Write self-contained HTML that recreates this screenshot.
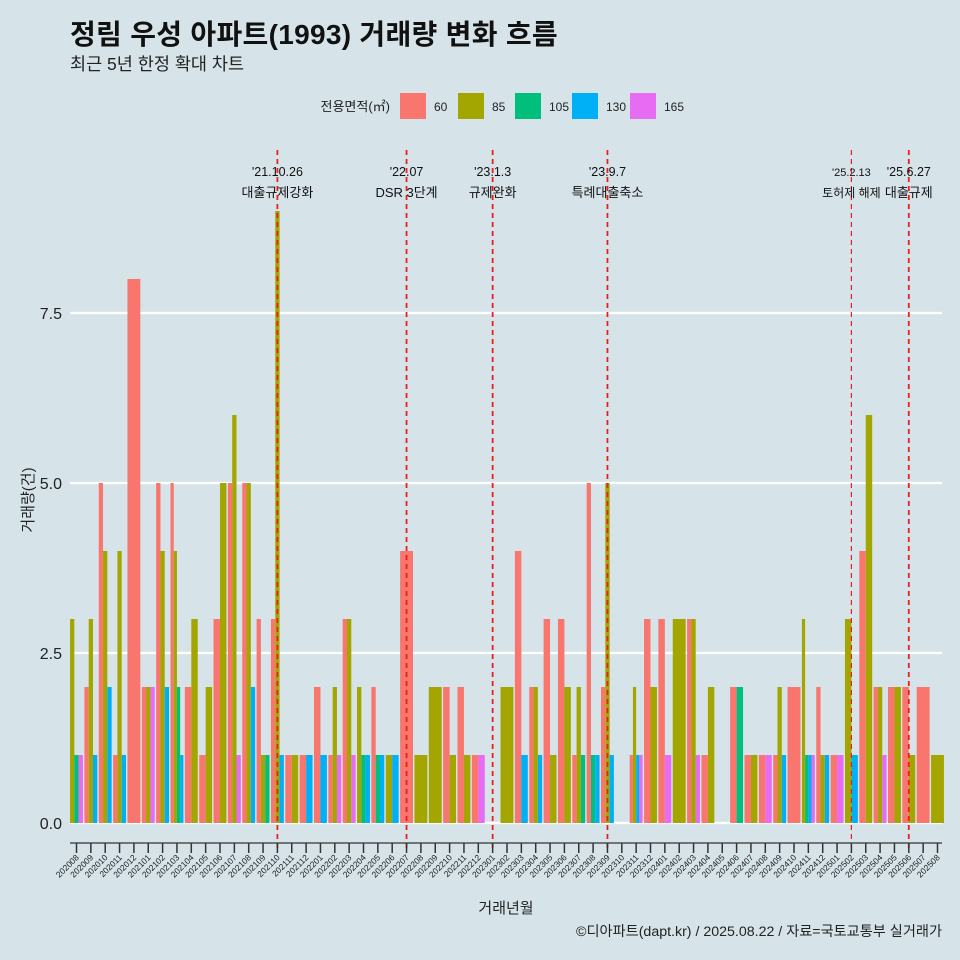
<!DOCTYPE html>
<html><head><meta charset="utf-8"><style>
body{margin:0;background:#d6e4ea;}
svg{display:block;font-family:"Liberation Sans","Noto Sans CJK KR",sans-serif;}
</style></head><body>
<svg id="chart" width="960" height="960" viewBox="0 0 960 960" xmlns="http://www.w3.org/2000/svg">
<rect width="960" height="960" fill="#d6e4ea"/>
<text x="70" y="44" font-size="28" font-weight="bold" fill="#111" letter-spacing="0.3">정림 우성 아파트(1993) 거래량 변화 흐름</text>
<text x="70" y="70" font-size="17.5" fill="#222">최근 5년 한정 확대 차트</text>
<g id="legend"></g>
<g id="grid"></g>
<g id="bars"></g>
<g id="events"></g>
<g id="axes"></g>
<text x="506" y="913" font-size="15" text-anchor="middle" fill="#222">거래년월</text>
<text transform="translate(33,500) rotate(-90)" font-size="15" text-anchor="middle" fill="#222">거래량(건)</text>
<text x="942" y="936" font-size="14.2" text-anchor="end" fill="#222">©디아파트(dapt.kr) / 2025.08.22 / 자료=국토교통부 실거래가</text>
</svg>
<script>
const months=["202008","202009","202010","202011","202012","202101","202102","202103","202104","202105","202106","202107","202108","202109","202110","202111","202112","202201","202202","202203","202204","202205","202206","202207","202208","202209","202210","202211","202212","202301","202302","202303","202304","202305","202306","202307","202308","202309","202310","202311","202312","202401","202402","202403","202404","202405","202406","202407","202408","202409","202410","202411","202412","202501","202502","202503","202504","202505","202506","202507","202508"];
const sizes=["60","85","105","130","165"];
const s60=[0,2,5,1,8,2,5,5,2,1,3,5,5,3,3,1,1,2,1,3,0,2,0,4,0,0,2,2,1,0,0,4,2,3,3,1,5,2,0,1,3,3,0,3,1,0,2,1,1,1,2,0,2,1,0,4,2,2,2,2,0];
const s85=[3,3,4,4,0,2,4,4,3,2,5,6,5,1,9,1,0,0,2,3,2,0,1,0,1,2,1,1,0,0,2,0,2,1,2,2,0,5,0,2,2,0,3,3,2,0,0,1,0,2,0,3,1,0,3,6,2,2,1,0,1];
const s105=[1,0,0,0,0,0,0,2,0,0,0,0,0,1,0,0,0,0,0,0,1,1,0,0,0,0,0,0,0,0,0,0,0,0,0,1,1,0,0,0,0,0,0,0,0,0,2,0,0,0,0,1,0,0,0,0,0,0,0,0,0];
const s130=[0,1,2,1,0,0,2,1,0,0,0,0,2,0,1,0,1,1,0,0,1,1,1,0,0,0,0,0,0,0,0,1,1,0,0,0,1,1,0,1,0,0,0,0,0,0,0,0,0,1,0,1,1,0,1,0,0,0,0,0,0];
const s165=[1,0,0,0,0,2,0,0,0,0,0,1,0,0,0,0,0,0,1,1,0,0,0,0,0,0,0,0,1,0,0,0,0,0,0,0,0,0,0,1,0,1,0,1,0,0,0,0,1,0,0,1,0,1,0,0,1,0,0,0,0];
const yTicks=[0,2.5,5,7.5];
const yTickLabels=["0.0","2.5","5.0","7.5"];
const eventMonths=["202110","202207","202301","202309","202502","202506"];
const eventDate=["'21.10.26","'22.07","'23.1.3","'23.9.7","'25.2.13","'25.6.27"];
const eventText=["대출규제강화","DSR 3단계","규제완화","특례대출축소","토허제 해제","대출규제"];
const colors=["#f8766d","#a3a500","#00bf7d","#00b0f6","#e76bf3"];
const NS="http://www.w3.org/2000/svg";
const X0=76.5,DX=14.35,BW=12.9;
const xS=i=>X0+DX*i;
const yS=v=>823-68*v;
function mk(tag,attrs,parent,txt){const e=document.createElementNS(NS,tag);for(const k in attrs)e.setAttribute(k,attrs[k]);if(txt!==undefined)e.textContent=txt;parent.appendChild(e);return e;}
const grid=document.getElementById('grid'),bars=document.getElementById('bars'),axes=document.getElementById('axes'),events=document.getElementById('events'),legend=document.getElementById('legend');
yTicks.forEach((t,k)=>{
 const l=mk('line',{x1:70,x2:942,y1:yS(t),y2:yS(t),stroke:'#fff','stroke-width':2.2},grid);
 
 const tx=mk('text',{x:62,y:yS(t)+6,'font-size':16,'text-anchor':'end',fill:'#222'},axes,yTickLabels[k]);
 
});
const series=[s60,s85,s105,s130,s165];
months.forEach((m,i)=>{
 const present=[];series.forEach((s,j)=>{if(s[i]>0)present.push(j);});
 const n=present.length;if(!n)return;const w=BW/n;const left=xS(i)-BW/2;
 present.forEach((j,k)=>{const v=series[j][i];
  const r=mk('rect',{x:left+k*w,y:yS(v),width:w,height:yS(0)-yS(v),fill:colors[j]},bars);
  });
});
const ax=mk('line',{x1:70,x2:942,y1:843,y2:843,stroke:'#333','stroke-width':1.2},axes);

months.forEach((m,i)=>{
 const tk=mk('line',{x1:xS(i),x2:xS(i),y1:843,y2:853,stroke:'#333','stroke-width':1.5},axes);
 
 const t=mk('text',{transform:`translate(${xS(i)+3},858) rotate(-45)`,'font-size':8.5,'text-anchor':'end',fill:'#222'},axes,m);
 
});
eventMonths.forEach((m,k)=>{
 const i=months.indexOf(m);const x=xS(i);const small=(k===4);
 const l=mk('line',{x1:x,x2:x,y1:150,y2:850,stroke:'#e8201c','stroke-width':small?1.2:1.8,'stroke-dasharray':'5,4'},events);
 
 const a=mk('text',{x:x,y:176,'font-size':small?11:12.5,'text-anchor':'middle',fill:'#111'},events,eventDate[k]);
 
 const b=mk('text',{x:x,y:197,'font-size':small?12:13,'text-anchor':'middle',fill:'#111'},events,eventText[k]);
 
});
const lt=mk('text',{x:390,y:111,'font-size':13,'text-anchor':'end',fill:'#222'},legend,'전용면적(㎡)');

const lx=[400,458,515,572,630];
sizes.forEach((s,j)=>{
 const r=mk('rect',{x:lx[j],y:93,width:26,height:26,fill:colors[j]},legend);
 
 const t=mk('text',{x:lx[j]+34,y:111,'font-size':12,fill:'#222'},legend,s);
 
});
</script>
</body></html>
